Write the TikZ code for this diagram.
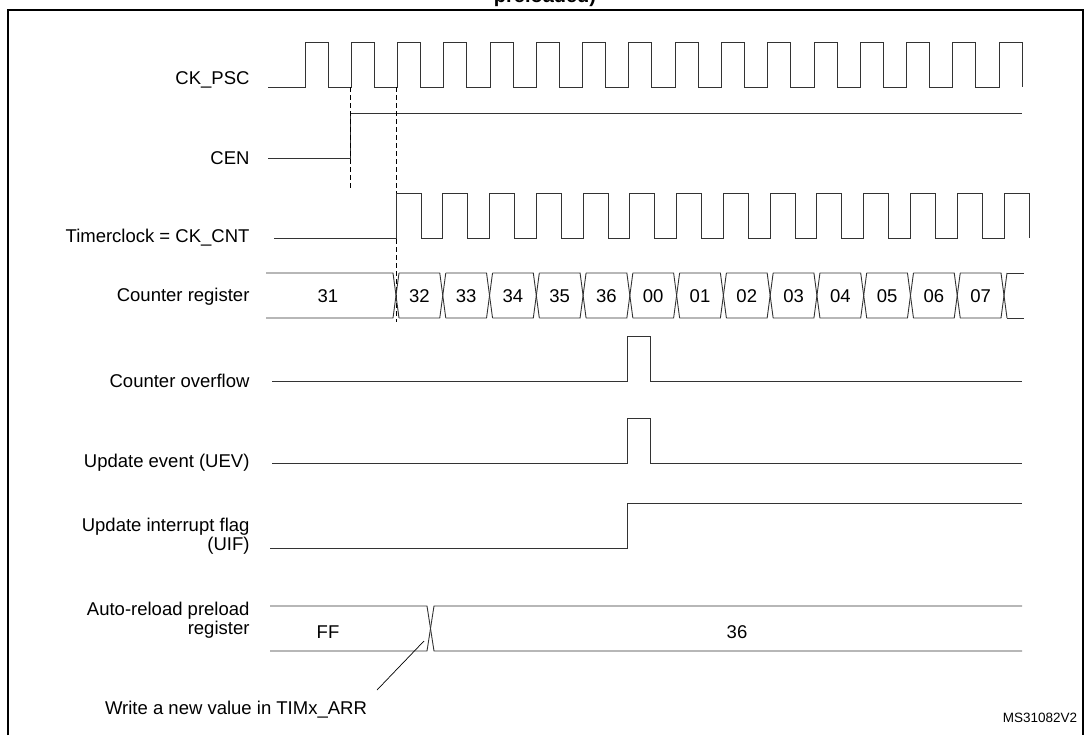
\documentclass[tikz,border=0pt]{standalone}
\usepackage{fontspec}
\setmainfont{Liberation Sans}
\begin{document}
\begin{tikzpicture}[x=1pt,y=-1pt,
  sig/.style={line width=0.9pt,draw=black!80},
  lbl/.style={anchor=east,font=\fontsize{18.5}{20}\selectfont,align=right},
  val/.style={font=\fontsize{18.5}{20}\selectfont},
  dashln/.style={line width=0.9pt,dash pattern=on 5pt off 3pt}]
\useasboundingbox (0,0) rectangle (1085,737);
\node[font=\bfseries\fontsize{20}{22}\selectfont] (title) at (545,-3) {preloaded)};
\draw[line width=1.3pt] (8,735) -- (8,10) -- (1083,10) -- (1083,735);
% labels
\node[lbl] (lpsc) at (253,80) {CK\_PSC};
\node[lbl] (lcen) at (253,158) {CEN};
\node[lbl] (lcnt) at (253,238) {Timerclock = CK\_CNT};
\node[lbl] (lreg) at (253,297) {Counter register};
\node[lbl] (lovf) at (253,381) {Counter overflow};
\node[lbl] (luev) at (253,463) {Update event (UEV)};
\node[lbl,font=\fontsize{18.5}{19}\selectfont] (luif) at (253,536) {Update interrupt flag\\(UIF)};
\node[lbl,font=\fontsize{18.5}{19}\selectfont] (larr) at (253,620) {Auto-reload preload\\register};
% CK_PSC
\draw[sig] (268,87) -- (305,87)
  \foreach \k in {0,...,15} { -- ({305+46.27*\k},87) -- ({305+46.27*\k},42) -- ({328+46.27*\k},42) -- ({328+46.27*\k},87) };
% CEN
\draw[sig] (268,158) -- (350,158) -- (350,113) -- (1022,113);
\draw[dashln] (350,87) -- (350,188);
\draw[dashln] (396,87) -- (396,322);
% CK_CNT
\draw[sig] (274,238) -- (396,238)
  \foreach \k in {0,...,13} { -- ({396+46.77*\k},238) -- ({396+46.77*\k},193) -- ({421+46.77*\k},193) -- ({421+46.77*\k},238) };
% Counter register
\draw[sig] (266,273) -- (393,273) -- (399,318);
\draw[sig] (266,318) -- (393,318) -- (399,273);
\node[val] (v31) at (328,296) {31};
\foreach \k/\v in {0/32,1/33,2/34,3/35,4/36,5/00,6/01,7/02,8/03,9/04,10/05,11/06,12/07} {
  \pgfmathsetmacro{\a}{396+46.77*\k}
  \pgfmathsetmacro{\b}{396+46.77*(\k+1)}
  \draw[sig] (\a+3,273) -- (\b-3,273) -- (\b+3,318);
  \draw[sig] (\a+3,318) -- (\b-3,318) -- (\b+3,273);
  \node[val] (v\k) at ({(\a+\b)/2},296) {\v};
}
\draw[sig] (1007,273) -- (1024,273);
\draw[sig] (1007,318) -- (1024,318);
% overflow, UEV
\draw[sig] (272,381) -- (627,381) -- (627,336) -- (650,336) -- (650,381) -- (1022,381);
\draw[sig] (272,463) -- (627,463) -- (627,418) -- (650,418) -- (650,463) -- (1022,463);
% UIF
\draw[sig] (270,548) -- (627,548) -- (627,503) -- (1022,503);
% ARR
\draw[sig] (270,606) -- (427,606) -- (434,651) -- (1022,651);
\draw[sig] (270,651) -- (427,651) -- (434,606) -- (1022,606);
\node[val] (vff) at (328,632) {FF};
\node[val] (v36b) at (737,632) {36};
\coordinate (wr) at (424,641);
\node[val,anchor=north] (note) at (236,698) {Write a new value in TIMx\_ARR};
\draw[line width=0.7pt] (377,690) -- (wr);
\node[font=\fontsize{13.5}{15}\selectfont] (ms) at (1040,718) {MS31082V2};
\end{tikzpicture}
\end{document}
